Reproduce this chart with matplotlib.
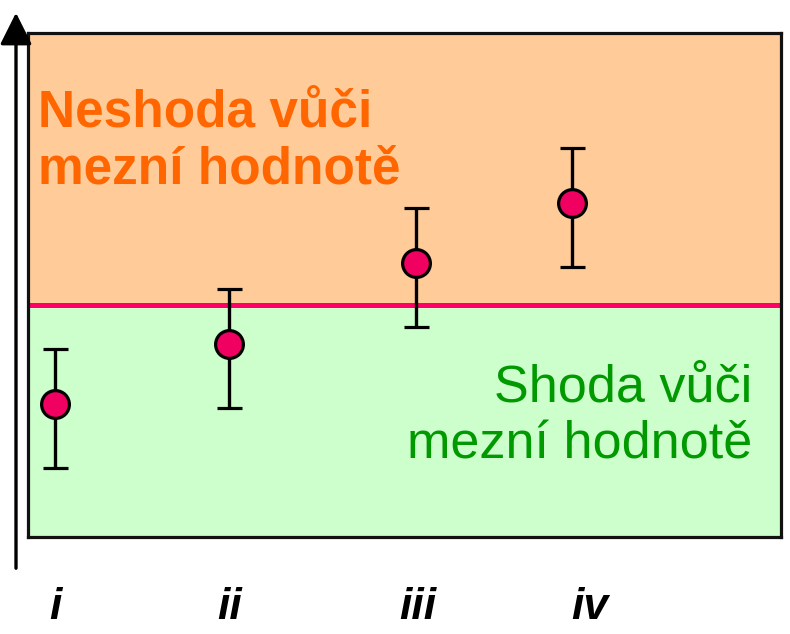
import matplotlib
matplotlib.use("Agg")
import matplotlib.pyplot as plt
from matplotlib.patches import Rectangle, FancyArrowPatch

# Data (measurement units relative to limit value = 0)
categories = ["i", "ii", "iii", "iv"]
x_positions = [0.27, 2.01, 3.88, 5.44]
label_positions = [0.27, 2.02, 3.90, 5.62]
values = [-1.65, -0.65, 0.70, 1.70]
err_lower = [1.07, 1.07, 1.07, 1.07]
err_upper = [0.92, 0.92, 0.92, 0.92]
limit_value = 0.0
y_low, y_high = -3.87, 4.53
x_low, x_high = 0.0, 7.53

W, H = 790, 634
fig = plt.figure(figsize=(W / 100, H / 100), dpi=100)
fig.patch.set_facecolor("white")

left, right, top, bottom = 28, 781, 33, 537
ax = fig.add_axes([left / W, 1 - bottom / H, (right - left) / W, (bottom - top) / H])
ax.set_xlim(x_low, x_high)
ax.set_ylim(y_low, y_high)

# Zones
ax.add_patch(Rectangle((x_low, limit_value), x_high - x_low, y_high - limit_value,
                       facecolor="#FFCC99", edgecolor="none", zorder=0))
ax.add_patch(Rectangle((x_low, y_low), x_high - x_low, limit_value - y_low,
                       facecolor="#CCFFCC", edgecolor="none", zorder=0))
ax.axhline(limit_value, color="#FF0066", lw=3.6, zorder=1)

for s in ax.spines.values():
    s.set_linewidth(2.3)
    s.set_color("#111111")
ax.set_xticks([])
ax.set_yticks([])

ax.errorbar(x_positions, values, yerr=[err_lower, err_upper], fmt="o", color="black",
            ecolor="black", elinewidth=2.4, capsize=9, capthick=2.4,
            markersize=20, markerfacecolor="#F00060", markeredgecolor="black",
            markeredgewidth=2.3, zorder=3)

ax.text(0.013, 0.89, "Neshoda vůči\nmezní hodnotě", transform=ax.transAxes,
        ha="left", va="top", fontsize=37, fontweight="bold", color="#FF6600",
        family="Liberation Sans", linespacing=1.22)
ax.text(0.962, 0.345, "Shoda vůči\nmezní hodnotě", transform=ax.transAxes,
        ha="right", va="top", fontsize=37.5, color="#009900",
        family="Liberation Sans", linespacing=1.22)

for lp, lab in zip(label_positions, categories):
    ax.text(lp, -0.14, lab, transform=ax.get_xaxis_transform(), ha="center",
            va="center", fontsize=32, fontweight="bold", fontstyle="italic",
            family="Liberation Sans", clip_on=False)

# Vertical axis arrow
fig.add_artist(FancyArrowPatch(
    (16 / W, 1 - 571 / H), (16 / W, 1 - 10 / H), transform=fig.transFigure,
    arrowstyle="-|>,head_length=1.4,head_width=0.7", mutation_scale=14,
    lw=2.4, color="black"))

fig.savefig("out.png", dpi=100)
